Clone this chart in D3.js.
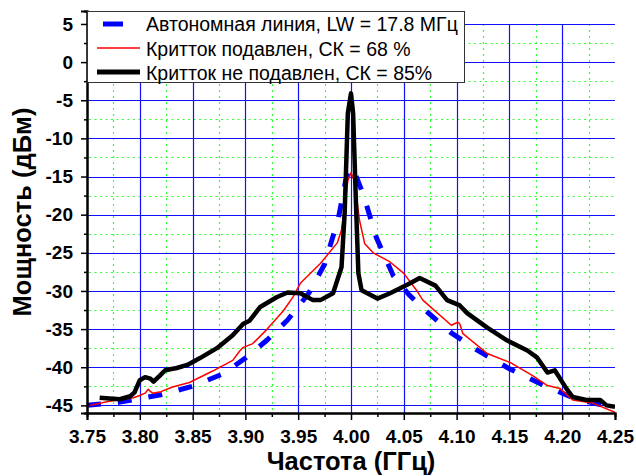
<!DOCTYPE html>
<html>
<head>
<meta charset="utf-8">
<script src="https://cdn.jsdelivr.net/npm/d3@7"></script>
<style>
  body { margin: 0; background: #fff; }
  text { font-family: "Liberation Sans", Arial, sans-serif; }
</style>
</head>
<body>
<script>
let w = 636;
let h = 476;

// data: [frequency GHz, power dBm]
const autonomous = [
  [3.75, -45], [3.78, -44.6], [3.8, -44.1], [3.82, -43.6], [3.85, -42.5],
  [3.88, -40.8], [3.9, -38.8], [3.92, -36.5], [3.94, -33.8], [3.96, -30.3],
  [3.975, -26.5], [3.988, -20.5], [3.995, -15.5], [4.0, -13.8], [4.005, -15],
  [4.012, -17.5], [4.024, -23], [4.04, -28], [4.055, -30.5], [4.07, -32.5],
  [4.095, -35.5], [4.12, -37.8], [4.15, -40.2], [4.18, -42.2], [4.21, -44],
  [4.25, -45.4],
];
const suppressed = [
  [3.753, -45], [3.77, -44.5], [3.794, -44], [3.8, -43.7], [3.805, -43.4],
  [3.808, -42.9], [3.812, -43.4], [3.82, -43.2], [3.831, -42.6], [3.847, -42],
  [3.869, -40.5], [3.888, -39.1], [3.895, -37.8], [3.898, -37.4], [3.907, -36.9],
  [3.92, -35.1], [3.936, -32.6], [3.945, -30.8], [3.952, -29], [3.971, -26.4],
  [3.987, -23.7], [3.991, -22], [3.994, -19], [3.997, -15.5], [4.0, -14.5],
  [4.003, -15.5], [4.006, -18.5], [4.008, -20.7], [4.013, -23.8], [4.021, -25],
  [4.037, -26.2], [4.05, -27.7], [4.062, -29.9], [4.068, -31.2], [4.095, -34.5],
  [4.101, -34.1], [4.103, -34.3], [4.106, -35.6], [4.129, -38.2], [4.151, -39.4],
  [4.172, -41.1], [4.186, -42.4], [4.198, -42.8], [4.21, -44.3], [4.229, -44.7],
  [4.25, -45.9],
];
const unsuppressed = [
  [3.762, -44], [3.781, -44.2], [3.791, -43.8], [3.795, -43.3], [3.8, -41.7],
  [3.805, -41.3], [3.81, -41.5], [3.813, -41.9], [3.819, -41.1], [3.824, -40.4],
  [3.835, -40.1], [3.845, -39.7], [3.857, -38.8], [3.873, -37.5], [3.888, -35.8],
  [3.898, -34.3], [3.904, -33.9], [3.914, -32.1], [3.93, -30.8], [3.94, -30.2],
  [3.952, -30.3], [3.964, -31.2], [3.971, -31.2], [3.983, -30.3], [3.991, -26.9],
  [3.994, -19.8], [3.997, -6.7], [4.0, -4.1], [4.002, -6.7], [4.005, -19.8],
  [4.007, -27.7], [4.01, -29.9], [4.025, -31], [4.037, -30.3], [4.056, -29],
  [4.065, -28.3], [4.08, -29.3], [4.091, -31.2], [4.103, -31.9], [4.11, -32.9],
  [4.129, -34.8], [4.148, -36.5], [4.167, -37.8], [4.176, -38.7], [4.186, -40.7],
  [4.193, -40.4], [4.198, -41.5], [4.204, -42.8], [4.21, -43.9], [4.223, -44.3],
  [4.236, -44.3], [4.242, -45], [4.25, -45.2],
];

const xTicks = [3.75, 3.8, 3.85, 3.9, 3.95, 4.0, 4.05, 4.1, 4.15, 4.2, 4.25];
const yTicks = [5, 0, -5, -10, -15, -20, -25, -30, -35, -40, -45];
const legendLabels = [
  "Автономная линия, LW = 17.8 МГц",
  "Критток подавлен, СК = 68 %",
  "Критток не подавлен, СК = 85%",
];

const pLeft = 87, pRight = 615, pTop = 11, pBottom = 413;

const x = d3.scaleLinear().domain([3.75, 4.25]).range([pLeft, pRight]);
const y = d3.scaleLinear().domain([-46, 6.7]).range([pBottom, pTop]);

let svg = d3.select("body").append("svg").attr("width", w).attr("height", h);

// grid
const minorX = d3.range(3.775, 4.25, 0.05);
const minorY = d3.range(-42.5, 5, 5);
const majorX = xTicks.slice(1, -1);

svg.append("defs").append("clipPath").attr("id", "plot")
  .append("rect").attr("x", pLeft).attr("y", pTop)
  .attr("width", pRight - pLeft).attr("height", pBottom - pTop);

let grid = svg.append("g");
grid.selectAll(".gy2").data(minorY).enter().append("line")
  .attr("x1", pLeft + 2).attr("x2", pRight)
  .attr("y1", d => Math.round(y(d)) + 0.5).attr("y2", d => Math.round(y(d)) + 0.5)
  .attr("stroke", "#33ff33").attr("stroke-width", 1.2)
  .attr("stroke-dasharray", "2,3.5");
grid.selectAll(".gx2").data(minorX).enter().append("line")
  .attr("x1", d => Math.round(x(d)) + 0.5).attr("x2", d => Math.round(x(d)) + 0.5)
  .attr("y1", y(5)).attr("y2", pBottom)
  .attr("stroke", "#33ff33").attr("stroke-width", 1.2)
  .attr("stroke-dasharray", "2,4");
grid.selectAll(".gy").data(yTicks).enter().append("line")
  .attr("x1", pLeft).attr("x2", pRight)
  .attr("y1", d => Math.round(y(d)) + 0.5).attr("y2", d => Math.round(y(d)) + 0.5)
  .attr("stroke", "#1010ff").attr("stroke-width", 1.2);
grid.selectAll(".gx").data(majorX).enter().append("line")
  .attr("x1", d => Math.round(x(d)) + 0.5).attr("x2", d => Math.round(x(d)) + 0.5)
  .attr("y1", y(5)).attr("y2", pBottom)
  .attr("stroke", "#1010ff").attr("stroke-width", 1.2);

const lineFunc = d3.line().x(d => x(d[0])).y(d => y(d[1])).curve(d3.curveLinear);

let curves = svg.append("g").attr("clip-path", "url(#plot)");
curves.append("path").attr("d", lineFunc(autonomous))
  .attr("fill", "none").attr("stroke", "#0000ff").attr("stroke-width", 5)
  .attr("stroke-dasharray", "14,17");
curves.append("path").attr("d", lineFunc(suppressed))
  .attr("fill", "none").attr("stroke", "#ff0000").attr("stroke-width", 1.5)
  .attr("stroke-linejoin", "round");
curves.append("path").attr("d", lineFunc(unsuppressed))
  .attr("fill", "none").attr("stroke", "#000").attr("stroke-width", 4.5)
  .attr("stroke-linejoin", "round");

// axes
svg.append("g").attr("transform", "translate(0," + pBottom + ")")
  .call(d3.axisBottom(x).tickValues(xTicks).tickFormat(d3.format(".2f"))
    .tickSize(7).tickPadding(10));
svg.append("g").attr("transform", "translate(0," + pBottom + ")")
  .call(d3.axisBottom(x).tickValues(minorX).tickFormat("").tickSize(4));
svg.append("g").attr("transform", "translate(" + pLeft + ",0)")
  .call(d3.axisLeft(y).tickValues(yTicks).tickFormat(d => String(d))
    .tickSize(6).tickPadding(8));
svg.append("g").attr("transform", "translate(" + pLeft + ",0)")
  .call(d3.axisLeft(y).tickValues(minorY).tickFormat("").tickSize(3));

svg.selectAll(".domain").attr("stroke", "#000").attr("stroke-width", 2);
svg.selectAll(".tick line").attr("stroke", "#000").attr("stroke-width", 1.5);
svg.selectAll(".tick text")
  .attr("font-family", "'Liberation Sans', Arial, sans-serif")
  .attr("font-size", "19px").attr("font-weight", "bold").attr("fill", "#000");

svg.append("text").text("Частота (ГГц)")
  .attr("x", x(4.0)).attr("y", 470)
  .attr("text-anchor", "middle").attr("font-size", "25.5px").attr("font-weight", "bold");
svg.append("text").text("Мощность (дБм)")
  .attr("transform", "translate(31,212) rotate(-90)")
  .attr("text-anchor", "middle").attr("font-size", "25.5px").attr("font-weight", "bold");

// legend
let legend = svg.append("g");
legend.append("rect").attr("x", pLeft + 0.5).attr("y", pTop + 0.5)
  .attr("width", 377).attr("height", 71)
  .attr("fill", "#fff").attr("stroke", "#333").attr("stroke-width", 1);
legend.append("line").attr("x1", 103).attr("x2", 123).attr("y1", 24).attr("y2", 24)
  .attr("stroke", "#0000ff").attr("stroke-width", 5);
legend.append("line").attr("x1", 97).attr("x2", 140).attr("y1", 48).attr("y2", 48)
  .attr("stroke", "#ff0000").attr("stroke-width", 1.5);
legend.append("line").attr("x1", 97).attr("x2", 140).attr("y1", 72).attr("y2", 72)
  .attr("stroke", "#000").attr("stroke-width", 5);
legend.selectAll(".lt").data(legendLabels).enter().append("text")
  .text(d => d)
  .attr("x", 146).attr("y", (d, i) => 31 + i * 24.5)
  .attr("font-size", "19.5px").attr("fill", "#000");
</script>
</body>
</html>
